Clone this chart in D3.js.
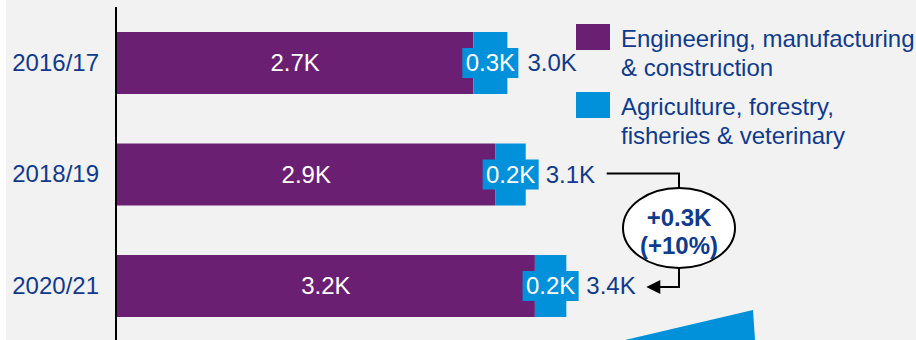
<!DOCTYPE html>
<html>
<head>
<meta charset="utf-8">
<script src="https://cdn.jsdelivr.net/npm/d3@7"></script>
<style>
  html, body { margin: 0; padding: 0; background: #ffffff; }
  svg { display: block; font-family: "Liberation Sans", Arial, sans-serif; }
</style>
</head>
<body>
<svg id="chart" width="916" height="340"></svg>
<script>
// Student enrolments (thousands) by academic year
const years = ["2016/17", "2018/19", "2020/21"];
const engineering = [2.72, 2.89, 3.19];
const agriculture = [0.26, 0.23, 0.24];
const seriesNames = ["Engineering, manufacturing & construction", "Agriculture, forestry, fisheries & veterinary"];
const legendLines = [["Engineering, manufacturing", "& construction"], ["Agriculture, forestry,", "fisheries & veterinary"]];

const PURPLE = "#6b1f73";
const BLUE = "#0091da";
const NAVY = "#103a8c";
const BG = "#f2f2f2";

const svg = d3.select("#chart");
const W = 916, H = 340;

svg.append("rect").attr("x", 6).attr("y", 0).attr("width", W - 6).attr("height", H).attr("fill", BG);

const x = d3.scaleLinear().domain([0, 6]).range([117, 903]);
const y = d3.scaleBand().domain(years).range([32, 317]).paddingInner(0.444).paddingOuter(0);

const fmt = v => d3.format(".1f")(v) + "K";
const totals = years.map((_, i) => engineering[i] + agriculture[i]);

// category axis
const axis = svg.append("g")
  .attr("transform", `translate(${x(0)},0)`)
  .call(d3.axisLeft(y).tickSize(0).tickPadding(18));
axis.select(".domain").remove();
axis.selectAll("text")
  .attr("fill", NAVY)
  .style("font-size", "24px")
  .style("font-family", "'Liberation Sans', Arial, sans-serif");

const rows = svg.append("g").selectAll("g").data(years).join("g");

// engineering segment
rows.append("rect")
  .attr("x", x(0))
  .attr("y", d => y(d))
  .attr("width", (d, i) => x(engineering[i]) - x(0))
  .attr("height", y.bandwidth())
  .attr("fill", PURPLE);

// agriculture segment
rows.append("rect")
  .attr("x", (d, i) => x(engineering[i]))
  .attr("y", d => y(d))
  .attr("width", (d, i) => x(totals[i]) - x(engineering[i]))
  .attr("height", y.bandwidth())
  .attr("fill", BLUE);

// engineering value
rows.append("text")
  .attr("x", (d, i) => (x(0) + x(engineering[i])) / 2)
  .attr("y", d => y(d) + y.bandwidth() / 2 + 8)
  .attr("text-anchor", "middle")
  .attr("fill", "#ffffff")
  .style("font-size", "24px")
  .text((d, i) => fmt(engineering[i]));

// agriculture value on a blue tag
const tagW = 56, tagH = 30;
rows.append("rect")
  .attr("x", (d, i) => (x(engineering[i]) + x(totals[i])) / 2 - tagW / 2)
  .attr("y", d => y(d) + y.bandwidth() / 2 - tagH / 2)
  .attr("width", tagW)
  .attr("height", tagH)
  .attr("fill", BLUE);
rows.append("text")
  .attr("x", (d, i) => (x(engineering[i]) + x(totals[i])) / 2)
  .attr("y", d => y(d) + y.bandwidth() / 2 + 8)
  .attr("text-anchor", "middle")
  .attr("fill", "#ffffff")
  .style("font-size", "24px")
  .text((d, i) => fmt(agriculture[i]));

// totals
rows.append("text")
  .attr("x", (d, i) => x(totals[i]) + 20)
  .attr("y", d => y(d) + y.bandwidth() / 2 + 8)
  .attr("fill", NAVY)
  .style("font-size", "24px")
  .text((d, i) => fmt(totals[i]));

// axis line
svg.append("line")
  .attr("x1", x(0) - 1).attr("x2", x(0) - 1)
  .attr("y1", 7).attr("y2", H)
  .attr("stroke", "#000").attr("stroke-width", 2);

// legend
const legend = svg.append("g").attr("transform", "translate(576,24)");
const lg = legend.selectAll("g").data(seriesNames).join("g")
  .attr("transform", (d, i) => `translate(0,${i * 68})`);
lg.append("rect").attr("width", 34).attr("height", 26)
  .attr("fill", (d, i) => i === 0 ? PURPLE : BLUE);
lg.append("text")
  .attr("fill", NAVY)
  .style("font-size", "24px")
  .selectAll("tspan").data((d, i) => legendLines[i]).join("tspan")
  .attr("x", 45)
  .attr("y", (d, j) => 23 + j * 29)
  .text(d => d);

// change callout between the last two years
const a = 1, b = 2;
const diff = totals[b] - totals[a];
const pct = diff / totals[a];
const cx = 679, cy = 228;
const yA = y(years[a]) + y.bandwidth() / 2 - 1;
const yB = y(years[b]) + y.bandwidth() / 2 + 1;
const callout = svg.append("g");
callout.append("path")
  .attr("d", `M${x(totals[a]) + 81},${yA} H${cx} V${cy - 40}`)
  .attr("fill", "none").attr("stroke", "#000").attr("stroke-width", 2);
callout.append("path")
  .attr("d", `M${cx},${cy + 40} V${yB} H${x(totals[b]) + 92}`)
  .attr("fill", "none").attr("stroke", "#000").attr("stroke-width", 2);
callout.append("path")
  .attr("d", `M${x(totals[b]) + 80},${yB} l14,-7 v14 z`)
  .attr("fill", "#000");
callout.append("ellipse")
  .attr("cx", cx).attr("cy", cy).attr("rx", 56).attr("ry", 40)
  .attr("fill", "#ffffff").attr("stroke", "#000").attr("stroke-width", 2);
callout.append("text")
  .attr("x", cx).attr("y", cy - 2)
  .attr("text-anchor", "middle")
  .attr("fill", NAVY)
  .style("font-size", "24px").style("font-weight", "bold")
  .text("+" + fmt(diff));
callout.append("text")
  .attr("x", cx).attr("y", cy + 26)
  .attr("text-anchor", "middle")
  .attr("fill", NAVY)
  .style("font-size", "24px").style("font-weight", "bold")
  .text("(+" + d3.format(".0%")(pct) + ")");

// corner accent
svg.append("path")
  .attr("d", "M625,340 L753,310 L755,340 Z")
  .attr("fill", BLUE);
</script>
</body>
</html>
